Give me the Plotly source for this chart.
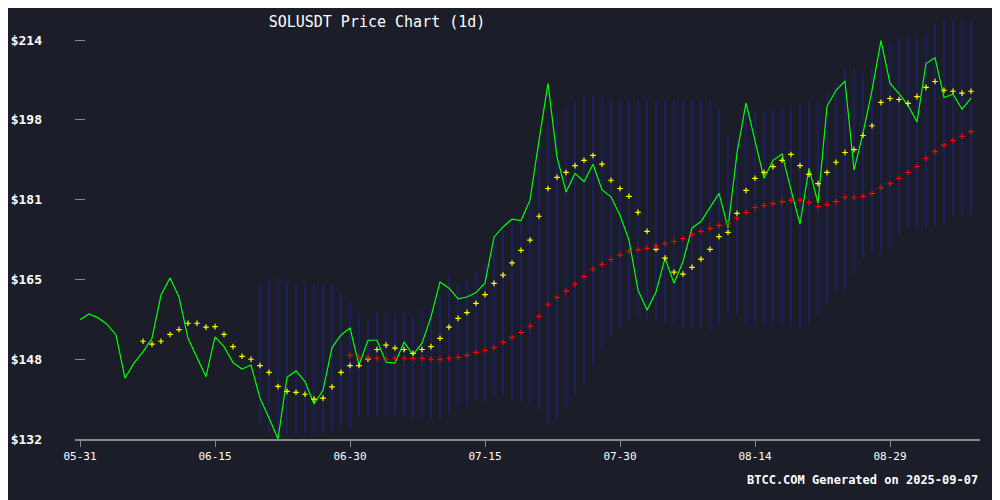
import pandas as pd
import plotly.graph_objects as go

# daily closes from 2025-05-31
close = [156.5, 157.7, 156.9, 155.6, 153.4, 144.5, 147.6, 149.9, 152.7, 161.6,
         165.1, 161.2, 152.7, 148.9, 144.8, 153.0, 151.0, 147.7, 146.4, 147.2,
         140.4, 136.3, 132.0, 144.7, 146.0, 143.8, 139.2, 142.0, 150.8, 153.4,
         154.8, 147.2, 152.3, 152.3, 147.8, 147.6, 151.9, 149.3, 151.7, 157.1,
         164.3, 163.0, 160.8, 161.2, 162.1, 164.1, 173.5, 175.6, 177.2, 176.9,
         181.1, 193.4, 205.1, 190.0, 182.8, 186.6, 184.9, 188.5, 183.2, 181.8,
         178.0, 172.9, 162.6, 158.5, 162.2, 169.2, 164.0, 168.5, 175.4, 176.7,
         179.7, 182.5, 175.4, 190.8, 201.1, 193.4, 185.6, 189.3, 190.6, 183.2,
         176.2, 187.7, 180.5, 200.4, 203.7, 205.6, 187.3, 194.9, 203.7, 213.9,
         205.1, 203.0, 200.6, 197.2, 209.2, 210.4, 202.2, 202.9, 199.8, 202.1]

# 20-day MA, starting day 7
ma20 = [152.1, 151.5, 152.1, 153.5, 154.5, 155.8, 155.8, 155.0, 155.1, 153.5,
        151.0, 149.0, 148.4, 147.1, 145.7, 142.8, 141.8, 141.6, 141.2, 140.2,
        140.4, 142.7, 145.7, 147.1, 147.1, 148.4, 150.4, 151.3, 150.7, 150.4,
        149.6, 150.4, 151.0, 152.7, 155.0, 156.8, 158.0, 159.9, 161.7, 164.0,
        165.7, 168.2, 170.8, 172.9, 177.8, 183.5, 185.8, 186.8, 188.2, 189.3,
        190.3, 188.5, 185.2, 183.5, 181.9, 178.6, 174.7, 171.0, 169.2, 166.3,
        165.9, 167.3, 169.0, 171.0, 173.6, 174.5, 178.4, 183.1, 185.6, 186.8,
        188.0, 189.3, 190.5, 188.2, 186.4, 184.5, 186.8, 188.9, 190.9, 191.5,
        194.4, 196.4, 201.2, 202.0, 201.8, 201.0, 202.4, 204.3, 205.5, 203.7,
        203.5, 203.1, 203.5]

# 50-day MA, starting day 30
ma50 = [149.2, 148.8, 148.8, 148.6, 148.4, 148.6, 148.6, 148.6, 148.6, 148.4,
        148.4, 148.6, 148.8, 149.2, 149.8, 150.2, 150.8, 151.9, 152.9, 153.9,
        155.2, 157.2, 159.7, 161.1, 162.4, 163.8, 165.4, 166.9, 167.9, 168.9,
        169.8, 170.6, 170.9, 171.2, 171.7, 172.2, 172.6, 173.2, 174.1, 174.7,
        175.3, 175.9, 176.3, 177.4, 178.6, 179.6, 180.0, 180.4, 180.8, 181.1,
        181.1, 180.6, 179.8, 180.2, 180.8, 181.7, 181.7, 181.9, 182.5, 183.7,
        184.5, 185.6, 186.8, 188.0, 189.7, 191.1, 192.4, 193.4, 194.2, 195.2]

# Bollinger band extents, starting day 20
bb_upper = [164.1, 164.5, 165.2, 164.5, 164.1, 164.1, 163.9, 163.9, 163.9, 162.3,
            160.2, 157.8, 156.5, 158.2, 158.2, 157.8, 158.2, 157.1, 158.5, 158.5,
            162.0, 165.7, 164.3, 164.6, 166.4, 168.0, 173.6, 175.6, 176.3, 177.0,
            180.8, 193.4, 196.9, 198.9, 200.6, 201.3, 202.3, 202.7, 202.3, 202.0,
            202.0, 201.7, 201.7, 201.7, 201.7, 201.7, 201.7, 201.7, 201.7, 201.7,
            201.7, 200.0, 194.1, 193.4, 200.3, 199.3, 199.3, 199.6, 200.3, 200.6,
            200.6, 201.7, 201.3, 203.0, 205.4, 208.2, 208.2, 207.2, 208.2, 213.3,
            213.7, 214.4, 214.4, 214.4, 215.4, 217.4, 217.8, 218.2, 218.5, 218.2]
bb_lower = [135.2, 133.2, 131.8, 132.8, 132.8, 132.8, 133.2, 133.2, 133.8, 134.5,
            133.8, 136.6, 136.9, 136.6, 136.6, 136.9, 136.6, 136.2, 136.2, 135.9,
            136.2, 136.9, 138.6, 138.6, 140.0, 139.7, 140.4, 141.0, 140.0, 139.7,
            139.0, 138.0, 134.9, 135.9, 138.3, 141.0, 143.4, 147.2, 150.6, 153.0,
            154.8, 156.5, 156.8, 156.5, 156.1, 156.1, 155.4, 154.8, 154.8, 154.8,
            154.4, 155.4, 157.8, 157.5, 155.4, 155.4, 155.4, 155.4, 155.1, 155.1,
            154.4, 155.4, 157.5, 159.9, 161.9, 162.6, 166.0, 169.1, 170.2, 170.2,
            171.2, 173.6, 175.3, 175.0, 175.3, 175.6, 176.3, 177.7, 178.0, 178.0]

y_ticks = [132, 148.4, 164.8, 181.2, 197.6, 214]
y_labels = ["$132", "$148", "$165", "$181", "$198", "$214"]

dates = pd.date_range("2025-05-31", periods=len(close), freq="D")

# vertical band segments separated by gaps
bx, by = [], []
for d, lo, hi in zip(dates[20:], bb_lower, bb_upper):
    bx += [d, d, None]
    by += [lo, hi, None]

fig = go.Figure()
fig.add_trace(go.Scatter(x=bx, y=by, mode="lines",
                         line=dict(color="#1e1e96", width=1), hoverinfo="skip"))
fig.add_trace(go.Scatter(x=dates, y=close, mode="lines",
                         line=dict(color="#00ff00", width=1.2)))
fig.add_trace(go.Scatter(x=dates[7:], y=ma20, mode="markers",
                         marker=dict(symbol="cross-thin", size=4, line=dict(color="#ffff00", width=1.2))))
fig.add_trace(go.Scatter(x=dates[30:], y=ma50, mode="markers",
                         marker=dict(symbol="cross-thin", size=4, line=dict(color="#ff0000", width=1.2))))

mono = "DejaVu Sans Mono"
# page body has an 8px margin, so the figure is offset by 8px
fig.update_layout(
    width=1000, height=500,
    margin=dict(l=67, r=28, t=2, b=69, autoexpand=False),
    paper_bgcolor="#1b1e29", plot_bgcolor="#1b1e29",
    showlegend=False,
    font=dict(family=mono, color="white", size=11),
    title=dict(text="SOLUSDT Price Chart (1d)", x=0.369, xanchor="center",
               y=0.972, yanchor="middle",
               font=dict(family=mono, size=15, color="white")),
)
fig.update_xaxes(
    range=["2025-05-30 10:40", "2025-09-08"],
    tickvals=pd.date_range("2025-05-31", periods=7, freq="15D"),
    tickformat="%m-%d", ticks="outside", ticklen=6, tickcolor="#888888",
    showline=True, linecolor="#888888", linewidth=1.5, automargin=False,
    showgrid=False, zeroline=False, tickfont=dict(family=mono, size=11),
)
fig.update_yaxes(
    range=[132, 220.2], tickvals=y_ticks, ticktext=y_labels,
    ticks="inside", ticklen=10, tickcolor="#888888", automargin=False,
    showgrid=False, zeroline=False, showline=False, ticklabelstandoff=32,
    tickfont=dict(family=mono, size=13, color="white", weight="bold"),
)
fig.add_annotation(text="<b>BTCC.COM Generated on 2025-09-07</b>", xref="paper", yref="paper",
                   x=1.0, y=-0.0956, xanchor="right", yanchor="middle", showarrow=False,
                   font=dict(family=mono, size=12, color="white"))

fig.write_html("out.html")
